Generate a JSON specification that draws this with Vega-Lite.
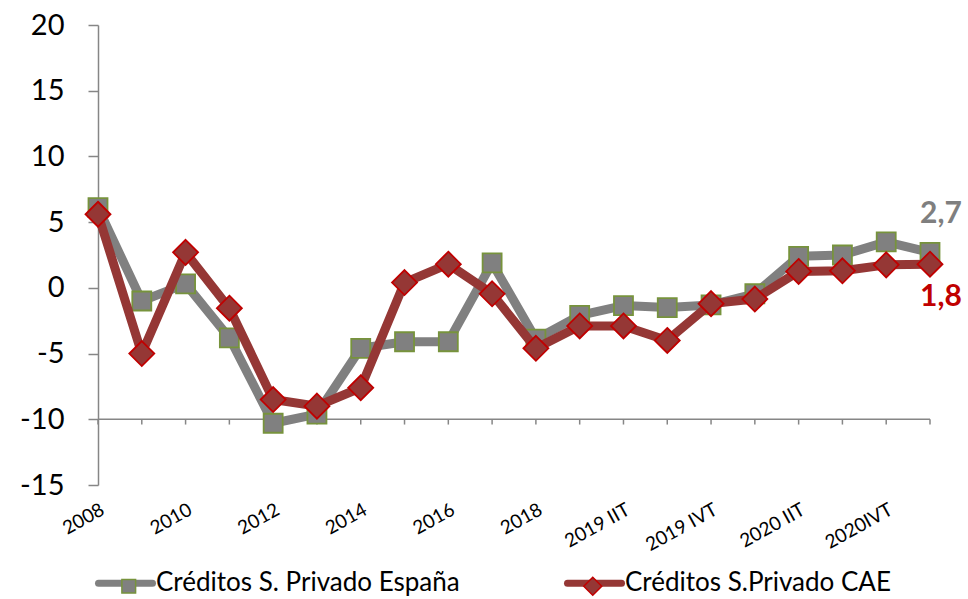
{
  "$schema": "https://vega.github.io/schema/vega-lite/v6.json",
  "width": 832,
  "height": 460,
  "autosize": "none",
  "padding": {"left": 98, "top": 25, "right": 38, "bottom": 114},
  "background": "white",
  "config": {
    "view": {"stroke": null},
    "font": "Lato",
    "locale": {"number": {"decimal": ",", "thousands": ".", "grouping": [3], "currency": ["", " €"], "minus": "-"}}
  },
  "data": {
    "values": [
      {"period": "2008", "series": "Créditos S. Privado España", "value": 6.1},
      {"period": "2009", "series": "Créditos S. Privado España", "value": -1.0},
      {"period": "2010", "series": "Créditos S. Privado España", "value": 0.3},
      {"period": "2011", "series": "Créditos S. Privado España", "value": -3.8},
      {"period": "2012", "series": "Créditos S. Privado España", "value": -10.3},
      {"period": "2013", "series": "Créditos S. Privado España", "value": -9.6},
      {"period": "2014", "series": "Créditos S. Privado España", "value": -4.6},
      {"period": "2015", "series": "Créditos S. Privado España", "value": -4.1},
      {"period": "2016", "series": "Créditos S. Privado España", "value": -4.1},
      {"period": "2017", "series": "Créditos S. Privado España", "value": 1.9},
      {"period": "2018", "series": "Créditos S. Privado España", "value": -3.9},
      {"period": "2019 IT", "series": "Créditos S. Privado España", "value": -2.1},
      {"period": "2019 IIT", "series": "Créditos S. Privado España", "value": -1.35},
      {"period": "2019 IIIT", "series": "Créditos S. Privado España", "value": -1.5},
      {"period": "2019 IVT", "series": "Créditos S. Privado España", "value": -1.3},
      {"period": "2020 IT", "series": "Créditos S. Privado España", "value": -0.45},
      {"period": "2020 IIT", "series": "Créditos S. Privado España", "value": 2.4},
      {"period": "2020 IIIT", "series": "Créditos S. Privado España", "value": 2.5},
      {"period": "2020IVT", "series": "Créditos S. Privado España", "value": 3.5},
      {"period": "2021 IT", "series": "Créditos S. Privado España", "value": 2.7},
      {"period": "2008", "series": "Créditos S.Privado CAE", "value": 5.6},
      {"period": "2009", "series": "Créditos S.Privado CAE", "value": -5.0},
      {"period": "2010", "series": "Créditos S.Privado CAE", "value": 2.7},
      {"period": "2011", "series": "Créditos S.Privado CAE", "value": -1.55},
      {"period": "2012", "series": "Créditos S.Privado CAE", "value": -8.5},
      {"period": "2013", "series": "Créditos S.Privado CAE", "value": -9.0},
      {"period": "2014", "series": "Créditos S.Privado CAE", "value": -7.6},
      {"period": "2015", "series": "Créditos S.Privado CAE", "value": 0.4},
      {"period": "2016", "series": "Créditos S.Privado CAE", "value": 1.8},
      {"period": "2017", "series": "Créditos S.Privado CAE", "value": -0.45},
      {"period": "2018", "series": "Créditos S.Privado CAE", "value": -4.6},
      {"period": "2019 IT", "series": "Créditos S.Privado CAE", "value": -2.9},
      {"period": "2019 IIT", "series": "Créditos S.Privado CAE", "value": -2.9},
      {"period": "2019 IIIT", "series": "Créditos S.Privado CAE", "value": -4.0},
      {"period": "2019 IVT", "series": "Créditos S.Privado CAE", "value": -1.2},
      {"period": "2020 IT", "series": "Créditos S.Privado CAE", "value": -0.85},
      {"period": "2020 IIT", "series": "Créditos S.Privado CAE", "value": 1.25},
      {"period": "2020 IIIT", "series": "Créditos S.Privado CAE", "value": 1.3},
      {"period": "2020IVT", "series": "Créditos S.Privado CAE", "value": 1.75},
      {"period": "2021 IT", "series": "Créditos S.Privado CAE", "value": 1.8}
    ]
  },
  "layer": [
    {
      "transform": [{"filter": "datum.period === '2008' && datum.series === 'Créditos S. Privado España'"}],
      "mark": {"type": "rule", "color": "#868686", "strokeWidth": 1.5},
      "encoding": {
        "y": {"datum": -10, "type": "quantitative"}
      }
    },
    {
      "transform": [{"filter": "datum.series === 'Créditos S. Privado España' && datum.value > -1000"}],
      "mark": {"type": "rule", "color": "#868686", "strokeWidth": 1.5},
      "encoding": {
        "x": {"field": "period", "type": "ordinal", "sort": null},
        "y": {"datum": -10, "type": "quantitative"},
        "y2": {"datum": -10.4}
      }
    },
    {
      "transform": [{"filter": "datum.series === 'Créditos S. Privado España'"}],
      "mark": {"type": "line", "strokeWidth": 9, "strokeJoin": "round", "strokeCap": "round"},
      "encoding": {
        "x": {
          "field": "period", "type": "ordinal", "sort": null,
          "scale": {"type": "point", "padding": 0, "domain": ["2008","2009","2010","2011","2012","2013","2014","2015","2016","2017","2018","2019 IT","2019 IIT","2019 IIIT","2019 IVT","2020 IT","2020 IIT","2020 IIIT","2020IVT","2021 IT"]},
          "axis": {
            "values": ["2008","2010","2012","2014","2016","2018","2019 IIT","2019 IVT","2020 IIT","2020IVT"],
            "domain": false, "ticks": false, "grid": false, "title": null,
            "labelAngle": -29, "labelAlign": "right", "labelBaseline": "top",
            "labelFontSize": 19, "labelFont": "Lato", "labelColor": "#000000", "labelPadding": 15
          }
        },
        "y": {
          "field": "value", "type": "quantitative",
          "scale": {"domain": [-15, 20], "nice": false, "zero": false},
          "axis": {
            "values": [-15, -10, -5, 0, 5, 10, 15, 20],
            "grid": false, "title": null,
            "domainColor": "#868686", "domainWidth": 1.5,
            "tickColor": "#868686", "tickWidth": 1.5, "tickSize": 10,
            "labelFontSize": 29, "labelFont": "Lato", "labelColor": "#000000", "labelPadding": 24
          }
        },
        "color": {
          "field": "series", "type": "nominal",
          "scale": {"range": ["#808080", "#953735"]},
          "legend": {
            "orient": "none", "legendX": -3, "legendY": 527.5, "direction": "horizontal",
            "title": null, "symbolType": "stroke", "symbolSize": 2916, "symbolStrokeWidth": 7,
            "labelFontSize": 26, "labelFont": "Lato", "labelColor": "#000000", "labelOffset": 0, "labelLimit": 600,
            "columnPadding": 93, "padding": 0, "rowPadding": 0,
            "encode": {"symbols": {"update": {"strokeCap": {"value": "round"}}}}
          }
        }
      }
    },
    {
      "transform": [{"filter": "datum.series !== 'Créditos S.Privado CAE'"}],
      "mark": {"type": "point", "filled": true, "opacity": 1, "strokeWidth": 1.8, "size": 625},
      "encoding": {
        "x": {"field": "period", "type": "ordinal", "sort": null},
        "y": {"field": "value", "type": "quantitative"},
        "fill": {"field": "series", "type": "nominal", "scale": {"range": ["#808080", "#953735"]}, "legend": null},
        "stroke": {"field": "series", "type": "nominal", "scale": {"range": ["#77933C", "#C00000"]}, "legend": null},
        "shape": {
          "field": "series", "type": "nominal",
          "scale": {"range": ["M-0.76,-0.76H0.76V0.76H-0.76Z", "M0,-1L1,0L0,1L-1,0Z"]},
          "legend": {
            "orient": "none", "legendX": 17.75, "legendY": 548.25, "direction": "horizontal",
            "title": null, "symbolSize": 324, "symbolStrokeWidth": 1.5,
            "labelFontSize": 26, "labelFont": "Lato", "labelOffset": 0, "labelLimit": 600,
            "labelExpr": "''",
            "columnPadding": 438, "padding": 0, "rowPadding": 0,
            "encode": {
              "symbols": {"update": {
                "fill": {"signal": "datum.value === 'Créditos S. Privado España' ? '#808080' : '#953735'"},
                "stroke": {"signal": "datum.value === 'Créditos S. Privado España' ? '#77933C' : '#C00000'"},
                "strokeWidth": {"value": 1.5},
                "opacity": {"value": 1}
              }}
            }
          }
        }
      }
    },
    {
      "transform": [{"filter": "datum.series === 'Créditos S.Privado CAE'"}],
      "mark": {"type": "line", "strokeWidth": 9, "strokeJoin": "round", "strokeCap": "round"},
      "encoding": {
        "x": {"field": "period", "type": "ordinal", "sort": null},
        "y": {"field": "value", "type": "quantitative"},
        "color": {"field": "series", "type": "nominal"}
      }
    },
    {
      "transform": [{"filter": "datum.series !== 'Créditos S. Privado España'"}],
      "mark": {"type": "point", "filled": true, "opacity": 1, "strokeWidth": 1.8, "size": 625},
      "encoding": {
        "x": {"field": "period", "type": "ordinal", "sort": null},
        "y": {"field": "value", "type": "quantitative"},
        "fill": {"field": "series", "type": "nominal", "legend": null},
        "stroke": {"field": "series", "type": "nominal", "legend": null},
        "shape": {"field": "series", "type": "nominal"}
      }
    },
    {
      "transform": [{"filter": "datum.period === '2021 IT' && datum.series === 'Créditos S. Privado España'"}],
      "mark": {"type": "text", "dx": 11, "dy": -38, "fontSize": 30, "fontWeight": "bold", "font": "Lato", "color": "#7F7F7F", "align": "center", "baseline": "middle"},
      "encoding": {
        "x": {"field": "period", "type": "ordinal", "sort": null},
        "y": {"field": "value", "type": "quantitative"},
        "text": {"field": "value", "type": "quantitative", "format": ".1f"}
      }
    },
    {
      "transform": [{"filter": "datum.period === '2021 IT' && datum.series === 'Créditos S.Privado CAE'"}],
      "mark": {"type": "text", "dx": 11, "dy": 33, "fontSize": 30, "fontWeight": "bold", "font": "Lato", "color": "#C00000", "align": "center", "baseline": "middle"},
      "encoding": {
        "x": {"field": "period", "type": "ordinal", "sort": null},
        "y": {"field": "value", "type": "quantitative"},
        "text": {"field": "value", "type": "quantitative", "format": ".1f"}
      }
    }
  ]
}
